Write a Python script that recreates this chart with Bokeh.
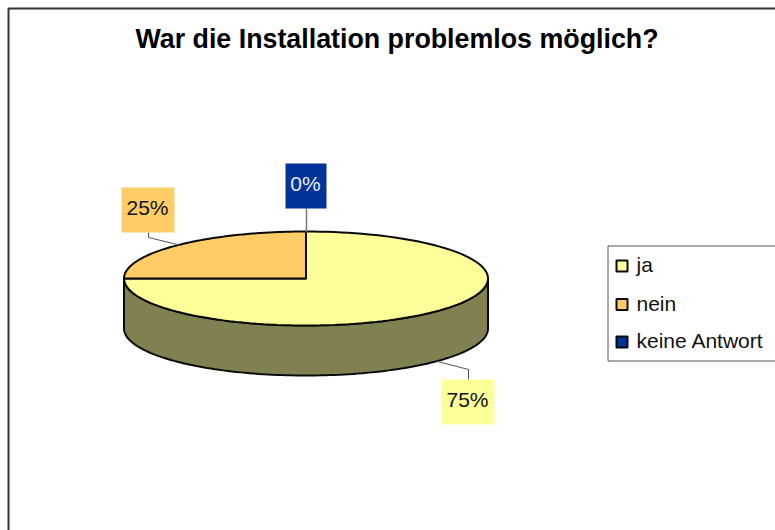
import math
from bokeh.plotting import figure
from bokeh.models import Range1d
from bokeh.core.properties import value
from bokeh.embed import file_html
from bokeh.resources import INLINE

title = "War die Installation problemlos möglich?"
categories = ["ja", "nein", "keine Antwort"]
shares = [75, 25, 0]
labels = ["75%", "25%", "0%"]
colors = ["#FFFF99", "#FFCC66", "#003399"]
label_text_colors = ["#111111", "#111111", "#E8ECF4"]

FONT = value("Liberation Sans")
W, H = 775, 530
CX, CY, RX, RY, DEPTH = 305.5, 278, 182, 47, 50
EDGE = "#0a0a0a"

p = figure(width=W, height=H, output_backend="svg", toolbar_location=None,
           x_range=Range1d(0, W), y_range=Range1d(H, 0),
           min_border=0, outline_line_color=None, background_fill_color="white")
p.xaxis.visible = False
p.yaxis.visible = False
p.grid.visible = False


def pt(frac):
    a = 2 * math.pi * frac
    return CX + RX * math.sin(a), CY - RY * math.cos(a)


def arc(f0, f1, n=120):
    return [pt(f0 + (f1 - f0) * i / n) for i in range(n + 1)]


# outer chart frame (left and top edges are visible in the picture)
p.line([8, 8, W], [H, 8, 8], line_color="#333333", line_width=2)

# side wall of the cylinder, the front half only
front = arc(0.25, 0.75)
wall_x = [q[0] for q in front] + [q[0] for q in reversed(front)]
wall_y = [q[1] for q in front] + [q[1] + DEPTH for q in reversed(front)]
p.patch(wall_x, wall_y, fill_color="#808050", line_color=EDGE, line_width=2)

# top slices, clockwise from twelve o'clock
start = 0.0
total = sum(shares)
for share, col in zip(shares, colors):
    frac = share / total
    if frac > 0:
        pts = arc(start, start + frac)
        xs = [CX] + [q[0] for q in pts]
        ys = [CY] + [q[1] for q in pts]
        p.patch(xs, ys, fill_color=col, line_color=EDGE, line_width=2)
    start += frac

# leader lines
p.line([148, 148, 181], [232, 237, 245], line_color="#555555", line_width=1)
p.line([306, 306], [208, 232], line_color="#777777", line_width=1.5)
p.line([468, 468, 437], [379, 369, 361], line_color="#555555", line_width=1)

# data labels
boxes = [(441, 494, 379, 424), (121, 174, 187, 232), (285, 326, 163, 208)]
for (x0, x1, y0, y1), lab, col, tc in zip(boxes, labels, colors, label_text_colors):
    p.quad(left=[x0], right=[x1], top=[y0], bottom=[y1], fill_color=col, line_color=None)
    p.text([(x0 + x1) / 2 - 0.5], [(y0 + y1) / 2 - 3], text=[lab], text_font=FONT, text_font_size="21px",
           text_color=tc, text_align="center", text_baseline="middle")

# legend
p.quad(left=[607.5], right=[800], top=[245.5], bottom=[360.5], fill_color="white",
       line_color="#555555", line_width=1)
for yc, cat, col in zip([265.5, 304, 341.5], categories, colors):
    p.quad(left=[616], right=[627], top=[yc - 5.5], bottom=[yc + 5.5], fill_color=col,
           line_color=EDGE, line_width=2)
    p.text([636], [yc - 1.5], text=[cat], text_font=FONT, text_font_size="21px", text_color="#111111",
           text_align="left", text_baseline="middle")

# title
p.text([396.5], [38], text=[title], text_font=FONT, text_font_size="26.8px", text_font_style="bold",
       text_color="#000000", text_align="center", text_baseline="middle")

open("out.html", "w").write(file_html(p, INLINE))
